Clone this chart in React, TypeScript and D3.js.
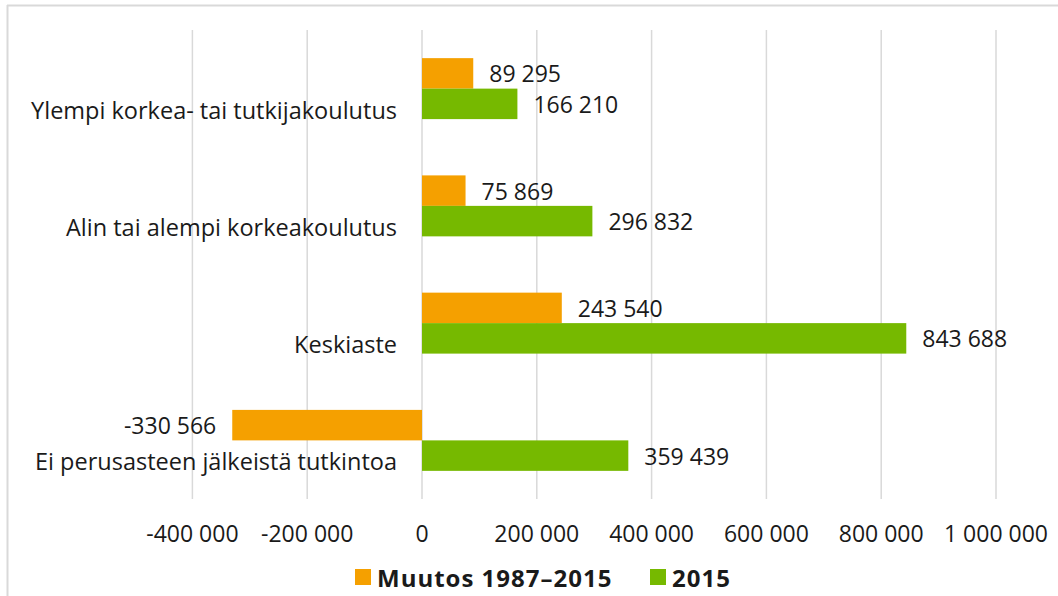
import React, { useEffect, useRef } from 'react';
import * as d3 from 'd3';

// Data
const categories = [
  'Ylempi korkea- tai tutkijakoulutus',
  'Alin tai alempi korkeakoulutus',
  'Keskiaste',
  'Ei perusasteen jälkeistä tutkintoa',
];
const seriesNames = ['Muutos 1987–2015', '2015'];
const muutos = [89295, 75869, 243540, -330566];
const vuosi2015 = [166210, 296832, 843688, 359439];
const ticks = [-400000, -200000, 0, 200000, 400000, 600000, 800000, 1000000];

const colors = ['#F5A000', '#76B900'];
const font = '"Open Sans", "Noto Sans", sans-serif';
const textColor = '#1a1a1a';

// Finnish style thousands separator: "843 688"
const fmt = (v: number) => {
  const s = Math.abs(v).toString().replace(/\B(?=(\d{3})+(?!\d))/g, ' ');
  return (v < 0 ? '-' : '') + s;
};

const App = () => {
  const ref = useRef<SVGSVGElement>(null);

  useEffect(() => {
    if (!ref.current) return;
    const svg = d3.select(ref.current);
    svg.selectAll('*').remove();

    const width = 1058;
    const height = 596;
    const plotTop = 30;
    const plotBottom = 499;

    // frame (top and left edges visible)
    svg.append('line')
      .attr('x1', 7).attr('y1', 5.5).attr('x2', width).attr('y2', 5.5)
      .attr('stroke', '#d9d9d9').attr('stroke-width', 2);
    svg.append('line')
      .attr('x1', 7.5).attr('y1', 5).attr('x2', 7.5).attr('y2', height)
      .attr('stroke', '#d9d9d9').attr('stroke-width', 2);

    const x = d3.scaleLinear()
      .domain([-400000, 1000000])
      .range([192.4, 996]);

    const y = d3.scaleBand<string>()
      .domain(categories)
      .range([plotTop, plotBottom])
      .paddingInner(0.48)
      .paddingOuter(0.24);

    const ySub = d3.scaleBand<string>()
      .domain(seriesNames)
      .range([0, y.bandwidth()]);

    // gridlines
    svg.append('g')
      .selectAll('line')
      .data(ticks)
      .enter()
      .append('line')
      .attr('x1', d => x(d))
      .attr('x2', d => x(d))
      .attr('y1', plotTop)
      .attr('y2', plotBottom)
      .attr('stroke', '#d9d9d9')
      .attr('stroke-width', 1.5);

    // tick labels
    svg.append('g')
      .selectAll('text')
      .data(ticks)
      .enter()
      .append('text')
      .attr('x', d => x(d))
      .attr('y', 533)
      .attr('text-anchor', 'middle')
      .attr('dominant-baseline', 'central')
      .style('font-family', font)
      .style('font-size', '23px')
      .style('fill', textColor)
      .text(d => fmt(d));

    // bars + value labels
    const seriesData = [muutos, vuosi2015];
    seriesData.forEach((values, s) => {
      const g = svg.append('g');
      values.forEach((v, i) => {
        const top = (y(categories[i]) as number) + (ySub(seriesNames[s]) as number);
        const h = ySub.bandwidth();
        g.append('rect')
          .attr('x', Math.min(x(0), x(v)))
          .attr('y', top)
          .attr('width', Math.abs(x(v) - x(0)))
          .attr('height', h)
          .attr('fill', colors[s]);
        g.append('text')
          .attr('x', v < 0 ? x(v) - 16 : x(v) + 16)
          .attr('y', top + h / 2)
          .attr('text-anchor', v < 0 ? 'end' : 'start')
          .attr('dominant-baseline', 'central')
          .style('font-family', font)
          .style('font-size', '23px')
          .style('fill', textColor)
          .text(fmt(v));
      });
    });

    // category labels
    svg.append('g')
      .selectAll('text')
      .data(categories)
      .enter()
      .append('text')
      .attr('x', 397)
      .attr('y', d => (y(d) as number) + y.bandwidth() / 2 + 21)
      .attr('text-anchor', 'end')
      .attr('dominant-baseline', 'central')
      .style('font-family', font)
      .style('font-size', '23.5px')
      .style('fill', textColor)
      .text(d => d);

    // legend
    const legendX = [355, 650];
    seriesNames.forEach((name, s) => {
      svg.append('rect')
        .attr('x', legendX[s])
        .attr('y', 569)
        .attr('width', 16)
        .attr('height', 16)
        .attr('fill', colors[s]);
      svg.append('text')
        .attr('x', legendX[s] + 22)
        .attr('y', 577)
        .attr('dominant-baseline', 'central')
        .style('font-family', font)
        .style('font-size', '24px')
        .style('letter-spacing', '1px')
        .style('font-weight', 'bold')
        .style('fill', textColor)
        .text(name);
    });
  }, []);

  return (
    <svg
      ref={ref}
      width={1058}
      height={596}
      style={{ position: 'absolute', left: 0, top: 0, background: '#fff' }}
    />
  );
};

export default App;
